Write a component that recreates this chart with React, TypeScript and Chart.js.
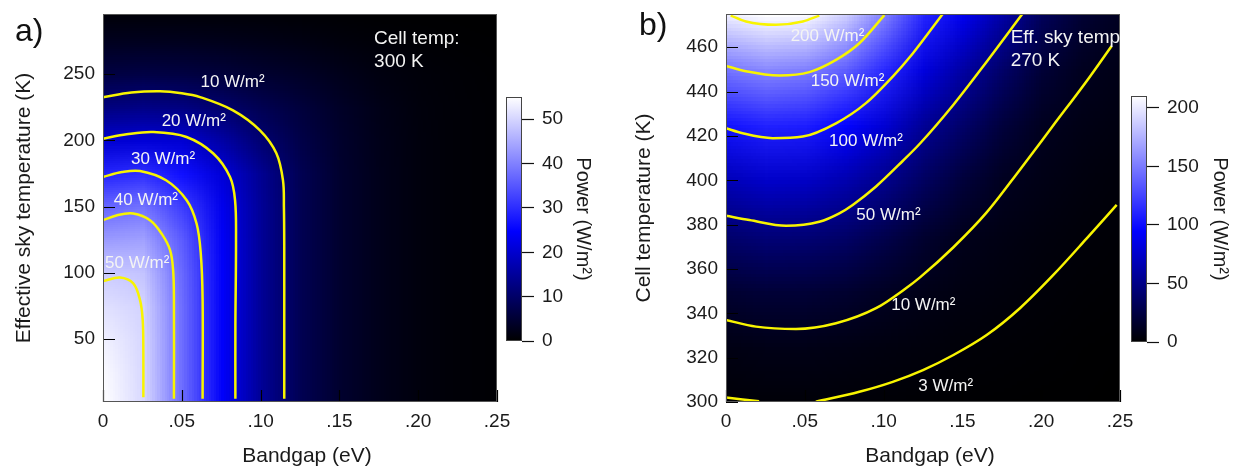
import React, { useEffect, useRef } from 'react';
import { Chart, registerables } from 'chart.js';

Chart.register(...registerables);

const FONT = "'Liberation Sans', Arial, Helvetica, sans-serif";
const TEXT_COLOR = '#1a1a1a';
const CONTOUR_COLOR = '#f8f400';
const CMAP_STOPS: [number, string][] = [
  [0, '#000000'],
  [0.45, '#0000ff'],
  [1, '#ffffff'],
];

// ---------- shared bandgap axis ----------
const BANDGAP_GRID = [0, 0.025, 0.05, 0.075, 0.1, 0.125, 0.15, 0.175, 0.2, 0.225, 0.25];
const BANDGAP_TICKS = [0, 0.05, 0.1, 0.15, 0.2, 0.25];

// ---------- panel a: cell temp 300 K ----------
const A_SKY_TEMP_GRID = [300, 275, 250, 225, 200, 175, 150, 125, 100, 75, 50, 25, 0];
const A_POWER = [
  [0.3, 0.3, 0.3, 0.3, 0.25, 0.2, 0.15, 0.1, 0.08, 0.05, 0.03],
  [3.0, 3.0, 2.9, 2.6, 2.2, 1.7, 1.2, 0.8, 0.5, 0.3, 0.2],
  [6.5, 6.8, 6.5, 5.8, 4.8, 3.8, 2.6, 1.6, 1.0, 0.6, 0.3],
  [12.3, 13.0, 12.5, 10.5, 8.0, 5.8, 3.8, 2.2, 1.2, 0.7, 0.35],
  [20.3, 21.0, 20.5, 16.0, 11.0, 7.0, 4.3, 2.4, 1.3, 0.7, 0.35],
  [29.0, 30.2, 26.5, 21.0, 14.0, 8.0, 4.5, 2.5, 1.3, 0.7, 0.35],
  [37.0, 38.5, 32.0, 23.0, 14.5, 8.0, 4.5, 2.5, 1.3, 0.7, 0.35],
  [43.3, 44.0, 35.5, 23.9, 14.5, 8.0, 4.5, 2.5, 1.3, 0.7, 0.35],
  [49.0, 48.0, 37.0, 24.3, 14.5, 8.0, 4.5, 2.5, 1.3, 0.7, 0.35],
  [51.5, 49.8, 37.4, 24.3, 14.5, 8.0, 4.5, 2.5, 1.3, 0.7, 0.35],
  [53.3, 50.2, 37.5, 24.3, 14.5, 8.0, 4.5, 2.5, 1.3, 0.7, 0.35],
  [54.5, 50.4, 37.5, 24.3, 14.5, 8.0, 4.5, 2.5, 1.3, 0.7, 0.35],
  [55.5, 50.5, 37.5, 24.3, 14.5, 8.0, 4.5, 2.5, 1.3, 0.7, 0.35],
];
const A_SKY_MIN = 2.5;
const A_SKY_MAX = 295.3;
const A_SKY_TICKS = [50, 100, 150, 200, 250];
const A_POWER_MAX = 55;
const A_POWER_TICKS = [0, 10, 20, 30, 40, 50];

const A_C10: [number, number][] = [
  [0, 232.4], [0.018, 236], [0.0362, 237], [0.05, 235.5], [0.0616, 232.6], [0.0825, 222.6],
  [0.0996, 207.5], [0.11, 190.2], [0.1142, 169.8], [0.1148, 149.5], [0.115, 120], [0.115, 60], [0.115, 5],
];
const A_C20: [number, number][] = [
  [0, 201.2], [0.015, 204.5], [0.032, 206.2], [0.053, 202.5], [0.07, 190], [0.0806, 172.3],
  [0.0838, 154.7], [0.0844, 124.6], [0.084, 60], [0.084, 5],
];
const A_C30: [number, number][] = [
  [0, 172.3], [0.012, 176], [0.0235, 176.8], [0.04, 169.8], [0.0531, 154.7], [0.0594, 137],
  [0.062, 115], [0.0632, 80], [0.0632, 5],
];
const A_C40: [number, number][] = [
  [0, 139.7], [0.009, 143.5], [0.0192, 144.7], [0.03, 139.5], [0.0375, 129], [0.0426, 117],
  [0.0445, 102], [0.045, 80], [0.045, 5],
];
const A_C50: [number, number][] = [
  [0, 93.7], [0.0108, 96.5], [0.0192, 92], [0.0235, 79.4], [0.0252, 64.3], [0.0256, 40], [0.0256, 6],
];
const A_LABEL_TEXT = ['10 W/m²', '20 W/m²', '30 W/m²', '40 W/m²', '50 W/m²'];
const A_LABEL_AT: [number, number][] = [
  [0.0822, 243.9], [0.0576, 214.5], [0.0381, 185.4], [0.0272, 154.7], [0.0217, 107],
];
const A_NOTE = ['Cell temp:', '300 K'];
const A_NOTE_AT: [number, number] = [0.172, 276.6];

// ---------- panel b: eff. sky temp 270 K ----------
const B_CELL_TEMP_GRID = [475, 450, 425, 400, 375, 350, 325, 300];
const B_POWER = [
  [202, 212, 208, 188, 152, 111, 88, 61, 33, 19, 12],
  [147, 155, 151, 137, 112, 82, 60, 38, 20, 11.5, 8],
  [102.5, 109, 107, 96, 78, 55, 38, 22, 11.5, 7.8, 5.5],
  [68, 74, 72.5, 64, 51, 35, 21, 11.5, 7.8, 5.3, 3.5],
  [40, 44, 43, 38, 28, 17.5, 10, 7, 5, 3.3, 2.2],
  [18, 20.5, 20, 17.5, 12.5, 8.5, 5.8, 4.5, 2.9, 1.8, 1.1],
  [7.2, 8.3, 8.1, 7.2, 5.6, 4.3, 3.1, 2.2, 1.3, 0.75, 0.45],
  [2.6, 3.1, 3.0, 2.5, 2.1, 1.6, 1.0, 0.6, 0.35, 0.2, 0.1],
];
const B_CELL_MIN = 300;
const B_CELL_MAX = 475;
const B_CELL_TICKS = [300, 320, 340, 360, 380, 400, 420, 440, 460];
const B_POWER_MAX = 210;
const B_POWER_TICKS = [0, 50, 100, 150, 200];

const B_C3_LEFT: [number, number][] = [[0, 302], [0.021, 300.3]];
const B_C3_RIGHT: [number, number][] = [
  [0.057, 300.1], [0.0846, 304.6], [0.1058, 309.1], [0.125, 314.4], [0.1443, 321.2], [0.1654, 330.2],
  [0.1865, 342.3], [0.2077, 357.3], [0.2289, 373.8], [0.2479, 388.9],
];
const B_C10: [number, number][] = [
  [0, 337], [0.019, 334], [0.0444, 332.9], [0.0698, 335.5], [0.0952, 342.3], [0.1142, 351.3],
  [0.1231, 356.2], [0.1443, 369.8], [0.1654, 385.5], [0.1865, 404.8], [0.2077, 424.8], [0.2289, 444.8],
  [0.2447, 460.6],
];
const B_C50: [number, number][] = [
  [0, 384], [0.0148, 382.1], [0.0381, 379.5], [0.0592, 381.3], [0.0719, 385.1], [0.0804, 388.9],
  [0.0952, 397.2], [0.1121, 408.7], [0.1231, 416.6], [0.1443, 434.1], [0.1654, 453.5], [0.188, 475],
];
const B_C100: [number, number][] = [
  [0, 423.5], [0.0106, 421.2], [0.0296, 419], [0.0487, 419.7], [0.0698, 425.7], [0.0888, 434.8],
  [0.1058, 446.8], [0.1185, 457.2], [0.1375, 475],
];
const B_C150: [number, number][] = [
  [0, 451.6], [0.0127, 449.2], [0.0338, 447.3], [0.0529, 448.8], [0.0698, 454.3], [0.0846, 461.8],
  [0.1005, 474.5],
];
const B_C200: [number, number][] = [
  [0.003, 474.3], [0.0127, 471.6], [0.0317, 470.1], [0.0487, 471.6], [0.0592, 474.3],
];
const B_LABEL_TEXT = ['200 W/m²', '150 W/m²', '100 W/m²', '50 W/m²', '10 W/m²', '3 W/m²'];
const B_LABEL_AT: [number, number][] = [
  [0.0644, 464.8], [0.0771, 444.5], [0.0888, 417.7], [0.1031, 384.4], [0.1252, 343.8], [0.1394, 306.9],
];
const B_NOTE = ['Eff. sky temp', '270 K'];
const B_NOTE_AT: [number, number] = [0.1806, 464.1];

// ---------- helpers ----------
function hexRgb(h: string): number[] {
  return [parseInt(h.slice(1, 3), 16), parseInt(h.slice(3, 5), 16), parseInt(h.slice(5, 7), 16)];
}
function colorFor(v: number, vmax: number): number[] {
  const t = Math.max(0, Math.min(1, v / vmax));
  for (let i = 1; i < CMAP_STOPS.length; i++) {
    if (t <= CMAP_STOPS[i][0]) {
      const p0 = CMAP_STOPS[i - 1][0];
      const p1 = CMAP_STOPS[i][0];
      const f = (t - p0) / (p1 - p0);
      const a = hexRgb(CMAP_STOPS[i - 1][1]);
      const b = hexRgb(CMAP_STOPS[i][1]);
      return [0, 1, 2].map((k) => Math.round(a[k] + (b[k] - a[k]) * f));
    }
  }
  return hexRgb(CMAP_STOPS[CMAP_STOPS.length - 1][1]);
}
function fmtEg(v: number): string {
  return v === 0 ? '0' : v.toFixed(2).replace(/^0/, '');
}

function makeHeatmapPlugin(values: number[][], xs: number[], ys: number[], vmax: number) {
  return {
    id: 'heatmap',
    beforeDatasetsDraw(chart: any) {
      const nr = values.length;
      const nc = values[0].length;
      const off = document.createElement('canvas');
      off.width = nc;
      off.height = nr;
      const octx = off.getContext('2d')!;
      const img = octx.createImageData(nc, nr);
      for (let r = 0; r < nr; r++) {
        for (let c = 0; c < nc; c++) {
          const rgb = colorFor(values[r][c], vmax);
          const k = (r * nc + c) * 4;
          img.data[k] = rgb[0];
          img.data[k + 1] = rgb[1];
          img.data[k + 2] = rgb[2];
          img.data[k + 3] = 255;
        }
      }
      octx.putImageData(img, 0, 0);
      const xsc = chart.scales.x;
      const ysc = chart.scales.y;
      const dx = (xs[nc - 1] - xs[0]) / (nc - 1);
      const dy = (ys[0] - ys[nr - 1]) / (nr - 1);
      const left = xsc.getPixelForValue(xs[0] - dx / 2);
      const right = xsc.getPixelForValue(xs[nc - 1] + dx / 2);
      const top = ysc.getPixelForValue(ys[0] + dy / 2);
      const bottom = ysc.getPixelForValue(ys[nr - 1] - dy / 2);
      const ca = chart.chartArea;
      const ctx = chart.ctx;
      ctx.save();
      ctx.beginPath();
      ctx.rect(ca.left, ca.top, ca.right - ca.left, ca.bottom - ca.top);
      ctx.clip();
      ctx.imageSmoothingEnabled = true;
      ctx.drawImage(off, left, top, right - left, bottom - top);
      ctx.restore();
    },
  };
}

function makeOverlayPlugin(spec: {
  xTicks: number[];
  yTicks: number[];
  labels: string[];
  labelAt: [number, number][];
  note: string[];
  noteAt: [number, number];
  xTitle: string;
}) {
  return {
    id: 'overlay',
    afterDatasetsDraw(chart: any) {
      const ctx = chart.ctx;
      const ca = chart.chartArea;
      const xs = chart.scales.x;
      const ys = chart.scales.y;
      ctx.save();
      // inward tick marks
      ctx.strokeStyle = '#000';
      ctx.lineWidth = 1.2;
      ctx.beginPath();
      spec.xTicks.forEach((v) => {
        const p = Math.round(xs.getPixelForValue(v)) + 0.5;
        ctx.moveTo(p, ca.bottom);
        ctx.lineTo(p, ca.bottom - 12);
      });
      spec.yTicks.forEach((v) => {
        const p = Math.round(ys.getPixelForValue(v)) + 0.5;
        ctx.moveTo(ca.left, p);
        ctx.lineTo(ca.left + 12, p);
      });
      ctx.stroke();
      // frame
      ctx.strokeStyle = '#555';
      ctx.lineWidth = 1;
      ctx.strokeRect(ca.left + 0.5, ca.top + 0.5, ca.right - ca.left - 1, ca.bottom - ca.top - 1);
      // contour labels
      ctx.fillStyle = '#f4f4f4';
      ctx.font = `17px ${FONT}`;
      ctx.textAlign = 'center';
      ctx.textBaseline = 'middle';
      spec.labels.forEach((t, i) => {
        const [x, y] = spec.labelAt[i];
        ctx.fillText(t, xs.getPixelForValue(x), ys.getPixelForValue(y));
      });
      // annotation
      ctx.font = `19px ${FONT}`;
      ctx.textAlign = 'left';
      const nx = xs.getPixelForValue(spec.noteAt[0]);
      const ny = ys.getPixelForValue(spec.noteAt[1]);
      spec.note.forEach((t, i) => ctx.fillText(t, nx, ny + i * 22.5));
      // x axis title
      ctx.fillStyle = TEXT_COLOR;
      ctx.font = `21px ${FONT}`;
      ctx.textAlign = 'center';
      ctx.fillText(spec.xTitle, (ca.left + ca.right) / 2 + 7, ca.bottom + 54.7);
      ctx.restore();
    },
  };
}

const colorbarPlugin = {
  id: 'colorbar',
  beforeDatasetsDraw(chart: any) {
    const ctx = chart.ctx;
    const ca = chart.chartArea;
    const ys = chart.scales.y;
    const y0 = ys.getPixelForValue(ys.min);
    const y1 = ys.getPixelForValue(ys.max);
    const g = ctx.createLinearGradient(0, y0, 0, y1);
    CMAP_STOPS.forEach(([p, c]) => g.addColorStop(p, c));
    ctx.save();
    ctx.fillStyle = g;
    ctx.fillRect(ca.left, ca.top, ca.right - ca.left, ca.bottom - ca.top);
    ctx.strokeStyle = '#444';
    ctx.lineWidth = 1;
    ctx.strokeRect(ca.left + 0.5, ca.top + 0.5, ca.right - ca.left - 1, ca.bottom - ca.top - 1);
    ctx.restore();
  },
};

function contourDataset(pts: [number, number][], monotone: boolean) {
  return {
    data: pts.map(([x, y]) => ({ x, y })),
    showLine: true,
    borderColor: CONTOUR_COLOR,
    borderWidth: 2.5,
    pointRadius: 0,
    pointHoverRadius: 0,
    tension: monotone ? 0.4 : 0.35,
    cubicInterpolationMode: monotone ? 'monotone' : 'default',
    clip: 0,
    fill: false,
  };
}

const tickFont = { size: 19, family: FONT };

function mainConfig(s: any): any {
  return {
    type: 'scatter',
    data: { datasets: s.contours.map((c: [number, number][]) => contourDataset(c, s.monotone)) },
    options: {
      responsive: false,
      maintainAspectRatio: false,
      animation: false,
      events: [],
      layout: { padding: { top: 14, right: s.padRight, bottom: 0, left: 0 } },
      plugins: { legend: { display: false }, tooltip: { enabled: false } },
      scales: {
        x: {
          type: 'linear',
          min: 0,
          max: 0.25,
          afterBuildTicks: (sc: any) => {
            sc.ticks = BANDGAP_TICKS.map((v) => ({ value: v }));
          },
          afterFit: (sc: any) => {
            sc.height = 66;
            sc.paddingLeft = 0;
            sc.paddingRight = 0;
          },
          grid: { display: false, drawTicks: false },
          border: { display: false },
          ticks: {
            padding: 8,
            color: TEXT_COLOR,
            font: tickFont,
            autoSkip: false,
            maxRotation: 0,
            callback: (v: any) => fmtEg(Number(v)),
          },
        },
        y: {
          type: 'linear',
          min: s.yMin,
          max: s.yMax,
          afterBuildTicks: (sc: any) => {
            sc.ticks = s.yTicks.map((v: number) => ({ value: v }));
          },
          afterFit: (sc: any) => {
            sc.width = s.yWidth;
            sc.paddingTop = 0;
            sc.paddingBottom = 0;
          },
          grid: { display: false, drawTicks: false },
          border: { display: false },
          ticks: { padding: 8, color: TEXT_COLOR, font: tickFont, autoSkip: false },
          title: {
            display: true,
            text: s.yTitle,
            color: TEXT_COLOR,
            font: { size: 21, family: FONT, lineHeight: 1.1 },
            padding: { top: s.yTitlePad, bottom: 0 },
          },
        },
      },
    },
    plugins: [
      makeHeatmapPlugin(s.values, BANDGAP_GRID, s.yGrid, s.vmax),
      makeOverlayPlugin({
        xTicks: BANDGAP_TICKS,
        yTicks: s.yTicks,
        labels: s.labels,
        labelAt: s.labelAt,
        note: s.note,
        noteAt: s.noteAt,
        xTitle: 'Bandgap (eV)',
      }),
    ],
  };
}

function colorbarConfig(s: any): any {
  return {
    type: 'scatter',
    data: { datasets: [] },
    options: {
      responsive: false,
      maintainAspectRatio: false,
      animation: false,
      events: [],
      layout: { padding: { top: s.top, bottom: s.bottom, left: 6, right: 0 } },
      plugins: { legend: { display: false }, tooltip: { enabled: false } },
      scales: {
        x: { display: false },
        y: {
          type: 'linear',
          position: 'right',
          min: 0,
          max: s.max,
          afterBuildTicks: (sc: any) => {
            sc.ticks = s.ticks.map((v: number) => ({ value: v }));
          },
          afterFit: (sc: any) => {
            sc.width = s.width;
            sc.paddingTop = 0;
            sc.paddingBottom = 0;
          },
          grid: {
            display: true,
            drawOnChartArea: false,
            drawTicks: true,
            tickLength: 12,
            tickColor: '#111',
            tickWidth: 1.2,
          },
          border: { display: false },
          ticks: { padding: 8, color: TEXT_COLOR, font: tickFont, autoSkip: false },
          title: {
            display: true,
            text: 'Power (W/m²)',
            color: TEXT_COLOR,
            font: { size: 20, family: FONT, lineHeight: 1.1 },
            padding: { top: s.titlePad, bottom: 0 },
          },
        },
      },
    },
    plugins: [colorbarPlugin],
  };
}

export default function App() {
  const aRef = useRef<HTMLCanvasElement>(null);
  const acRef = useRef<HTMLCanvasElement>(null);
  const bRef = useRef<HTMLCanvasElement>(null);
  const bcRef = useRef<HTMLCanvasElement>(null);

  useEffect(() => {
    Chart.defaults.font.family = FONT;
    const charts: Chart[] = [];
    charts.push(
      new Chart(
        aRef.current!,
        mainConfig({
          contours: [A_C10, A_C20, A_C30, A_C40, A_C50],
          monotone: false,
          values: A_POWER,
          yGrid: A_SKY_TEMP_GRID,
          vmax: A_POWER_MAX,
          yMin: A_SKY_MIN,
          yMax: A_SKY_MAX,
          yTicks: A_SKY_TICKS,
          yWidth: 103,
          padRight: 103,
          yTitle: 'Effective sky temperature (K)',
          yTitlePad: 12.5,
          labels: A_LABEL_TEXT,
          labelAt: A_LABEL_AT,
          note: A_NOTE,
          noteAt: A_NOTE_AT,
        })
      )
    );
    charts.push(
      new Chart(
        acRef.current!,
        colorbarConfig({ top: 97, bottom: 127, max: A_POWER_MAX, ticks: A_POWER_TICKS, width: 88, titlePad: 16 })
      )
    );
    charts.push(
      new Chart(
        bRef.current!,
        mainConfig({
          contours: [B_C3_LEFT, B_C3_RIGHT, B_C10, B_C50, B_C100, B_C150, B_C200],
          monotone: true,
          values: B_POWER,
          yGrid: B_CELL_TEMP_GRID,
          vmax: B_POWER_MAX,
          yMin: B_CELL_MIN,
          yMax: B_CELL_MAX,
          yTicks: B_CELL_TICKS,
          yWidth: 126,
          padRight: 80,
          yTitle: 'Cell temperature (K)',
          yTitlePad: 32.5,
          labels: B_LABEL_TEXT,
          labelAt: B_LABEL_AT,
          note: B_NOTE,
          noteAt: B_NOTE_AT,
        })
      )
    );
    charts.push(
      new Chart(
        bcRef.current!,
        colorbarConfig({ top: 96, bottom: 126, max: B_POWER_MAX, ticks: B_POWER_TICKS, width: 91, titlePad: 7 })
      )
    );
    return () => charts.forEach((c) => c.destroy());
  }, []);

  const abs = (left: number, w: number): React.CSSProperties => ({
    position: 'absolute',
    left,
    top: 0,
    width: w,
    height: 468,
  });

  return (
    <div
      style={{
        position: 'absolute',
        left: 0,
        top: 0,
        width: 1238,
        height: 468,
        background: '#fff',
        fontFamily: FONT,
        overflow: 'hidden',
      }}
    >
      <canvas ref={aRef} width={600} height={468} style={abs(0, 600)} />
      <canvas ref={acRef} width={110} height={468} style={abs(500, 110)} />
      <canvas ref={bRef} width={600} height={468} style={abs(600, 600)} />
      <canvas ref={bcRef} width={113} height={468} style={abs(1125, 113)} />
      <div style={{ position: 'absolute', left: 15, top: 13.5, fontSize: 32, lineHeight: '32px', color: '#111' }}>a)</div>
      <div style={{ position: 'absolute', left: 639, top: 8, fontSize: 32, lineHeight: '32px', color: '#111' }}>b)</div>
    </div>
  );
}
